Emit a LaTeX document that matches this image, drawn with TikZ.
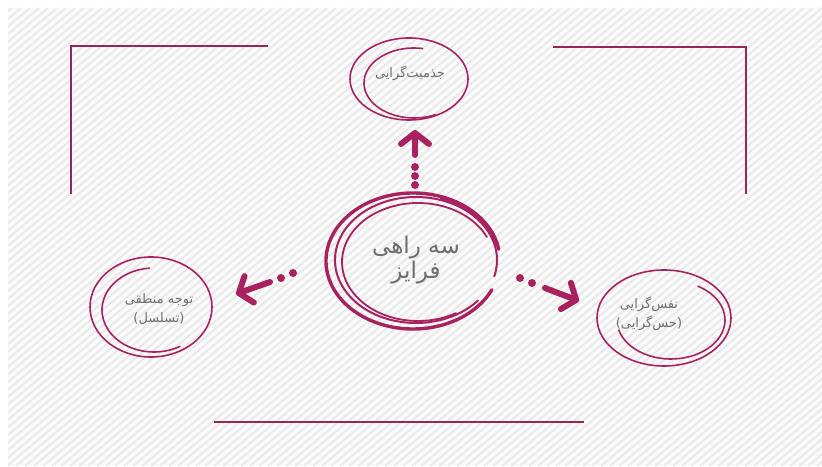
\documentclass[tikz,border=0pt]{standalone}
\usepackage{fontspec}
\usetikzlibrary{calc,arrows.meta,shapes.geometric}
\TeXXeTstate=1
\newfontfamily\arabicfont[Script=Arabic]{DejaVu Sans}
\definecolor{rosewood}{RGB}{168,34,96}
\definecolor{framered}{RGB}{150,38,88}
\definecolor{labelgray}{RGB}{110,110,110}
\definecolor{hatchbase}{RGB}{250,250,250}
\definecolor{hatchline}{RGB}{233,233,233}

\begin{document}
\begin{tikzpicture}[x=1pt,y=1pt]
				\tikzset{ring/.style = {shape=ellipse, draw=rosewood, line width=1.6pt, inner sep=0pt},
				arc line/.style = {draw=rosewood, line width=1.6pt, line cap=round},
				frame line/.style = {draw=framered, line width=2.6pt},
				pointer/.style = {draw=rosewood, line width=6pt, line cap=round, -{Straight Barb[length=11pt,width=28pt,round]}},
				ringtext/.style = {text=labelgray, align=center, font=\arabicfont\fontsize{13}{19}\selectfont}}
				
				\useasboundingbox (0,0) rectangle (822,466);
				\fill[white] (0,0) rectangle (822,466);
				\fill[hatchbase] (8,0) rectangle (822,458);
				\begin{scope}
				\clip (8,0) rectangle (822,458);
				\foreach \k in {-560,-551,...,830} \draw[hatchline, line width=2pt] (\k,0) -- ++(545,458);
				\end{scope}
				
				% frame
				\draw[frame line] (71,272) -- (71,420) -- (268,420);
				\draw[frame line] (553,419) -- (746,419) -- (746,272);
				\draw[frame line, line width=2.2pt] (214,44) -- (584,44);
				
				% centre
				\coordinate (H) at (413,205);
				\draw[arc line, line width=3.4pt] ([shift={(10:87 and 68)}]H) arc[start angle=10, end angle=335, x radius=87, y radius=68];
				\draw[arc line, line width=5pt] ([shift={(15:86 and 67)}]H) arc[start angle=15, end angle=70, x radius=86, y radius=67];
				\draw[arc line, line width=2pt] ([shift={(-15:81 and 63)}]$(H)+(3,1)$) arc[start angle=-15, end angle=320, x radius=81, y radius=63];
				\draw[arc line, line width=1.8pt] ([shift={(25:76 and 59)}]$(H)+(5,-1)$) arc[start angle=25, end angle=300, x radius=76, y radius=59];
				\node[ringtext, font=\arabicfont\fontsize{23}{25}\selectfont] (label_H) at (416,206) {\beginR سه راهی\endR\\\beginR فرایز\endR};
				
				\node[ring, minimum width=118pt, minimum height=82pt] (T) at (409,387) {};
				\draw[arc line] ([shift={(80:50 and 35)}]$(T)+(5,-4)$) arc[start angle=80, end angle=295, x radius=50, y radius=35];
				\node[ringtext] (label_T) at (410,393) {\beginR جذمیت‌گرایی\endR};
				
				\node[ring, minimum width=122pt, minimum height=100pt] (L) at (151,159) {};
				\draw[arc line] ([shift={(95:52 and 42)}]$(L)+(3,-3)$) arc[start angle=95, end angle=300, x radius=52, y radius=42];
				\node[ringtext] (label_L) at (159,157) {\beginR توجه منطقی\endR\\\beginR (تسلسل)\endR};
				
				\node[ring, minimum width=134pt, minimum height=96pt] (R) at (664,148) {};
				\draw[arc line] ([shift={(60:54 and 39)}]$(R)+(7,-2)$) arc[start angle=60, end angle=-165, x radius=54, y radius=39];
				\node[ringtext] (label_R) at (649,152) {\beginR نفس‌گرایی\endR\\\beginR (حس‌گرایی)\endR};
				
				% arrows
				\coordinate (up_tail) at (415,311);
				\coordinate (up_tip) at (415,336);
				\draw[pointer] (up_tail) -- (up_tip);
				\foreach \y in {299,290,281} \fill[rosewood] (415,\y) circle (4);
				
				\coordinate (left_tail) at (270,184);
				\coordinate (left_tip) at (236,172);
				\draw[pointer] (left_tail) -- (left_tip);
				\fill[rosewood] (281,188) circle (4);
				\fill[rosewood] (293,193) circle (4);
				
				\coordinate (right_tail) at (545,178);
				\coordinate (right_tip) at (579,165);
				\draw[pointer] (right_tail) -- (right_tip);
				\fill[rosewood] (532,183) circle (4);
				\fill[rosewood] (520,188) circle (4);
				
			\end{tikzpicture}
\end{document}
